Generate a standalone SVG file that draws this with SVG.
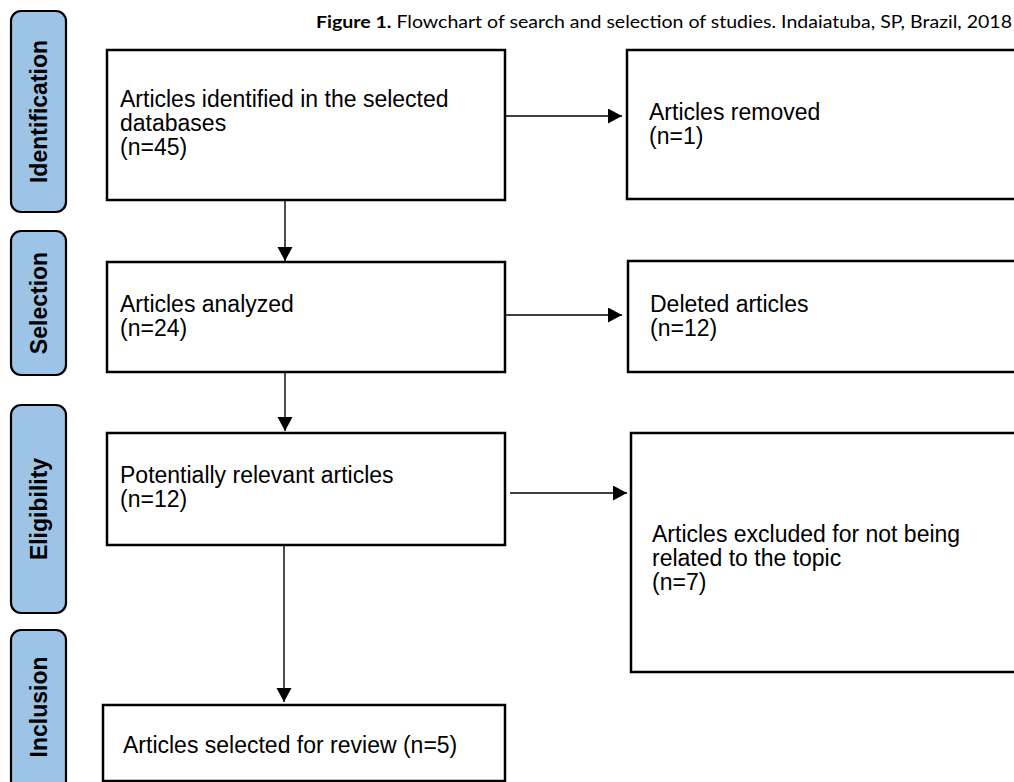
<svg xmlns="http://www.w3.org/2000/svg" width="1014" height="782" viewBox="0 0 1014 782">
<style>
.lane{fill:#9DC3E6;stroke:#000;stroke-width:2.2}
.lane-t{font-family:"Liberation Sans",Arial,sans-serif;font-weight:bold;font-size:23px;fill:#000;text-anchor:middle}
.box{fill:#fff;stroke:#000;stroke-width:2.5}
.t{font-family:"Liberation Sans",Arial,sans-serif;font-size:23px;fill:#000}
.c{stroke:#000;stroke-width:1.4;fill:none;marker-end:url(#ah)}
.title{font-family:Lato,"Open Sans",sans-serif;font-size:17px;fill:#000}
</style>
<defs>
<marker id="ah" markerUnits="userSpaceOnUse" markerWidth="16" markerHeight="16" refX="14" refY="7.5" orient="auto">
<path d="M0,0 L14,7.5 L0,15 Z" fill="#000"/>
</marker>
</defs>
<rect width="1014" height="782" fill="#fff"/>
<text class="title" x="316" y="28" textLength="696" lengthAdjust="spacingAndGlyphs"><tspan font-weight="bold">Figure 1.</tspan> Flowchart of search and selection of studies. Indaiatuba, SP, Brazil, 2018</text>

<g id="lane-identification"><rect class="lane" x="11" y="11" width="55" height="201" rx="10"/><text class="lane-t" transform="translate(46.5,111.5) rotate(-90)">Identification</text></g>
<g id="lane-selection"><rect class="lane" x="11" y="231" width="55" height="144" rx="10"/><text class="lane-t" transform="translate(46.5,303) rotate(-90)">Selection</text></g>
<g id="lane-eligibility"><rect class="lane" x="11" y="405" width="55" height="208" rx="10"/><text class="lane-t" transform="translate(46.5,509) rotate(-90)">Eligibility</text></g>
<g id="lane-inclusion"><rect class="lane" x="11" y="630" width="55" height="170" rx="10"/><text class="lane-t" transform="translate(46.5,707) rotate(-90)">Inclusion</text></g>

<g id="connectors">
<line class="c" x1="505" y1="116" x2="622" y2="116"/>
<line class="c" x1="505" y1="315" x2="622" y2="315"/>
<line class="c" x1="510" y1="493" x2="627" y2="493"/>
<line class="c" x1="285" y1="200" x2="285" y2="261"/>
<line class="c" x1="285" y1="372" x2="285" y2="431"/>
<line class="c" x1="284" y1="545" x2="284" y2="702"/>
</g>

<g id="n-identified"><rect class="box" x="107" y="50" width="398" height="150"/><text class="t" x="120" y="107">Articles identified in the selected</text><text class="t" x="120" y="131">databases</text><text class="t" x="120" y="155">(n=45)</text></g>
<g id="n-removed"><rect class="box" x="627" y="50" width="400" height="149"/><text class="t" x="649" y="120">Articles removed</text><text class="t" x="649" y="144">(n=1)</text></g>
<g id="n-analyzed"><rect class="box" x="107" y="262" width="398" height="110"/><text class="t" x="120" y="312">Articles analyzed</text><text class="t" x="120" y="336">(n=24)</text></g>
<g id="n-deleted"><rect class="box" x="628" y="261" width="400" height="111"/><text class="t" x="650" y="312">Deleted articles</text><text class="t" x="650" y="336">(n=12)</text></g>
<g id="n-relevant"><rect class="box" x="107" y="433" width="398" height="112"/><text class="t" x="120" y="483">Potentially relevant articles</text><text class="t" x="120" y="507">(n=12)</text></g>
<g id="n-excluded"><rect class="box" x="631" y="433" width="400" height="239"/><text class="t" x="652" y="542">Articles excluded for not being</text><text class="t" x="652" y="566">related to the topic</text><text class="t" x="652" y="590">(n=7)</text></g>
<g id="n-selected"><rect class="box" x="103" y="705" width="402" height="76"/><text class="t" x="123" y="753">Articles selected for review (n=5)</text></g>
</svg>
